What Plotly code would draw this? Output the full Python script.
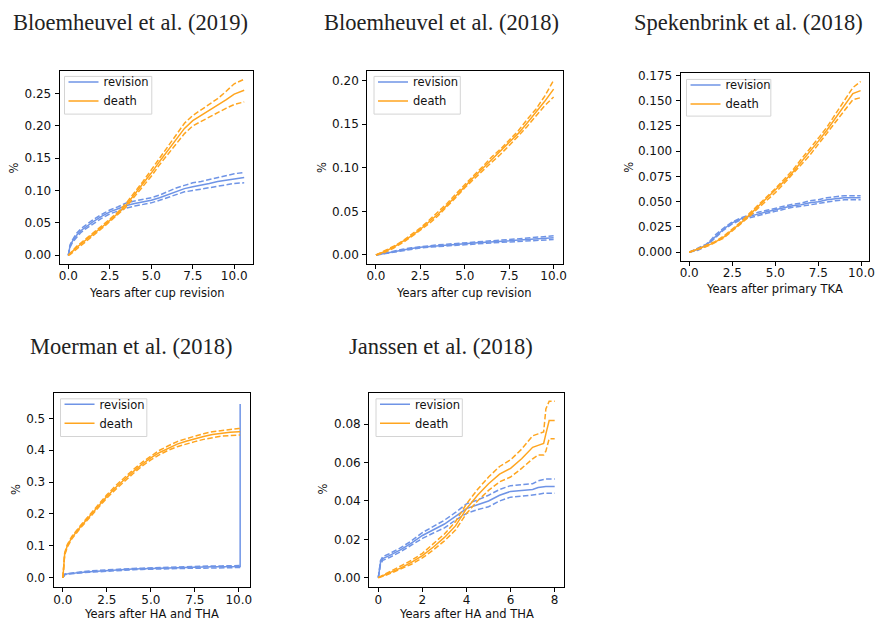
import plotly.graph_objects as go

W, H = 882, 620

# ---------------- data ----------------
titles = ["Bloemheuvel et al. (2019)", "Bloemheuvel et al. (2018)", "Spekenbrink et al. (2018)",
          "Moerman et al. (2018)", "Janssen et al. (2018)"]
xlabels = ["Years after cup revision", "Years after cup revision", "Years after primary TKA",
           "Years after HA and THA", "Years after HA and THA"]
series_names = ["revision", "death"]

# Panel 1 - Bloemheuvel 2019
p1_x = [0, 0.1, 0.25, 0.5, 0.75, 1, 1.5, 2, 2.5, 3, 3.5, 4, 4.5, 5, 5.5, 6, 6.5, 7, 7.5, 8, 8.5, 9, 9.5, 10, 10.6]
p1_rev = [0, 0.014, 0.022, 0.031, 0.038, 0.043, 0.052, 0.060, 0.067, 0.072, 0.077, 0.080, 0.082, 0.085, 0.089, 0.094, 0.099, 0.103, 0.106, 0.108, 0.111, 0.114, 0.116, 0.118, 0.120]
p1_rev_lo = [0, 0.012, 0.020, 0.028, 0.035, 0.040, 0.049, 0.057, 0.064, 0.069, 0.073, 0.076, 0.078, 0.081, 0.085, 0.089, 0.094, 0.098, 0.100, 0.102, 0.105, 0.107, 0.109, 0.111, 0.112]
p1_rev_hi = [0, 0.016, 0.024, 0.034, 0.041, 0.046, 0.055, 0.063, 0.070, 0.075, 0.081, 0.084, 0.086, 0.089, 0.093, 0.099, 0.104, 0.108, 0.112, 0.114, 0.117, 0.121, 0.124, 0.126, 0.128]
p1_death = [0, 0.002, 0.006, 0.012, 0.017, 0.022, 0.032, 0.043, 0.054, 0.065, 0.078, 0.094, 0.110, 0.127, 0.145, 0.162, 0.179, 0.196, 0.208, 0.216, 0.223, 0.231, 0.240, 0.249, 0.255]
p1_death_lo = [0, 0.001, 0.004, 0.010, 0.015, 0.020, 0.030, 0.041, 0.052, 0.063, 0.075, 0.091, 0.106, 0.122, 0.140, 0.156, 0.172, 0.188, 0.200, 0.207, 0.213, 0.220, 0.227, 0.233, 0.237]
p1_death_hi = [0, 0.003, 0.008, 0.014, 0.019, 0.024, 0.034, 0.045, 0.056, 0.067, 0.081, 0.097, 0.114, 0.132, 0.150, 0.168, 0.186, 0.204, 0.216, 0.225, 0.233, 0.242, 0.253, 0.265, 0.272]

# Panel 2 - Bloemheuvel 2018
p2_x = [0, 0.5, 1, 1.5, 2, 2.5, 3, 3.5, 4, 4.5, 5, 5.5, 6, 6.5, 7, 7.5, 8, 8.5, 9, 9.5, 10]
p2_rev = [0, 0.002, 0.004, 0.006, 0.0075, 0.0088, 0.0098, 0.0107, 0.0115, 0.0123, 0.0130, 0.0137, 0.0144, 0.0150, 0.0157, 0.0163, 0.0169, 0.0175, 0.0181, 0.0189, 0.0197]
p2_rev_lo = [0, 0.0016, 0.0035, 0.0054, 0.0068, 0.0080, 0.0090, 0.0098, 0.0106, 0.0113, 0.0120, 0.0126, 0.0132, 0.0138, 0.0144, 0.0149, 0.0154, 0.0159, 0.0164, 0.0170, 0.0177]
p2_rev_hi = [0, 0.0024, 0.0045, 0.0066, 0.0082, 0.0096, 0.0106, 0.0116, 0.0124, 0.0133, 0.0140, 0.0148, 0.0156, 0.0162, 0.0170, 0.0177, 0.0184, 0.0191, 0.0198, 0.0207, 0.0220]
p2_death = [0, 0.004, 0.009, 0.015, 0.022, 0.0295, 0.038, 0.047, 0.057, 0.068, 0.079, 0.089, 0.099, 0.109, 0.118, 0.128, 0.139, 0.151, 0.163, 0.176, 0.190]
p2_death_lo = [0, 0.003, 0.008, 0.014, 0.021, 0.028, 0.036, 0.045, 0.055, 0.066, 0.077, 0.087, 0.097, 0.106, 0.115, 0.125, 0.136, 0.147, 0.159, 0.171, 0.181]
p2_death_hi = [0, 0.005, 0.010, 0.016, 0.023, 0.031, 0.040, 0.049, 0.059, 0.070, 0.081, 0.091, 0.101, 0.112, 0.121, 0.131, 0.142, 0.155, 0.167, 0.182, 0.200]

# Panel 3 - Spekenbrink 2018
p3_x = [0, 0.5, 1, 1.25, 1.5, 2, 2.5, 3, 3.5, 4, 4.5, 5, 5.5, 6, 6.5, 7, 7.5, 8, 8.5, 9, 9.5, 9.95]
p3_rev = [0, 0.003, 0.007, 0.011, 0.016, 0.023, 0.029, 0.033, 0.0355, 0.038, 0.040, 0.042, 0.044, 0.046, 0.047, 0.049, 0.050, 0.052, 0.053, 0.054, 0.054, 0.054]
p3_rev_lo = [0, 0.002, 0.006, 0.010, 0.015, 0.022, 0.028, 0.032, 0.034, 0.0365, 0.0385, 0.0405, 0.0425, 0.0445, 0.0455, 0.047, 0.048, 0.050, 0.051, 0.052, 0.052, 0.052]
p3_rev_hi = [0, 0.004, 0.008, 0.012, 0.017, 0.024, 0.030, 0.034, 0.037, 0.0395, 0.0415, 0.0435, 0.0455, 0.0475, 0.0485, 0.051, 0.052, 0.054, 0.055, 0.056, 0.056, 0.056]
p3_death = [0, 0.003, 0.006, 0.008, 0.010, 0.015, 0.022, 0.029, 0.037, 0.045, 0.053, 0.061, 0.070, 0.079, 0.089, 0.099, 0.110, 0.121, 0.133, 0.145, 0.157, 0.160]
p3_death_lo = [0, 0.0025, 0.0055, 0.0075, 0.0095, 0.014, 0.021, 0.028, 0.0355, 0.0435, 0.051, 0.059, 0.068, 0.077, 0.086, 0.096, 0.107, 0.118, 0.129, 0.140, 0.151, 0.153]
p3_death_hi = [0, 0.0035, 0.0065, 0.0085, 0.0105, 0.016, 0.023, 0.030, 0.0385, 0.0465, 0.055, 0.063, 0.072, 0.081, 0.092, 0.102, 0.113, 0.124, 0.137, 0.150, 0.163, 0.169]

# Panel 4 - Moerman 2018
p4_x = [0, 0.05, 0.1, 0.25, 0.5, 1, 1.5, 2, 2.5, 3, 3.5, 4, 4.5, 5, 5.5, 6, 6.5, 7, 7.5, 8, 8.5, 9, 9.5, 10, 10.08]
p4_death = [0, 0.050, 0.074, 0.100, 0.125, 0.160, 0.192, 0.224, 0.255, 0.283, 0.309, 0.333, 0.356, 0.376, 0.393, 0.407, 0.419, 0.428, 0.436, 0.443, 0.449, 0.453, 0.456, 0.458, 0.458]
p4_death_lo = [0, 0.046, 0.070, 0.096, 0.121, 0.156, 0.187, 0.219, 0.250, 0.277, 0.303, 0.327, 0.350, 0.370, 0.386, 0.400, 0.411, 0.420, 0.427, 0.434, 0.440, 0.444, 0.446, 0.448, 0.448]
p4_death_hi = [0, 0.054, 0.078, 0.104, 0.129, 0.164, 0.197, 0.229, 0.260, 0.289, 0.315, 0.339, 0.362, 0.382, 0.400, 0.414, 0.427, 0.436, 0.445, 0.452, 0.458, 0.462, 0.466, 0.468, 0.468]
p4_x_rev = [0, 0.05, 0.1, 0.25, 0.5, 1, 1.5, 2, 2.5, 3, 3.5, 4, 4.5, 5, 5.5, 6, 6.5, 7, 7.5, 8, 8.5, 9, 9.5, 10, 10.08, 10.08]
p4_rev = [0, 0.007, 0.010, 0.012, 0.014, 0.016, 0.019, 0.021, 0.023, 0.025, 0.026, 0.027, 0.028, 0.029, 0.030, 0.031, 0.031, 0.032, 0.033, 0.033, 0.034, 0.034, 0.035, 0.035, 0.035, 0.545]
p4_rev_lo = [0, 0.006, 0.009, 0.011, 0.013, 0.015, 0.017, 0.019, 0.021, 0.023, 0.024, 0.025, 0.026, 0.027, 0.028, 0.028, 0.028, 0.029, 0.030, 0.030, 0.031, 0.031, 0.032, 0.032, 0.032]
p4_rev_hi = [0, 0.008, 0.011, 0.013, 0.015, 0.017, 0.021, 0.023, 0.025, 0.027, 0.028, 0.029, 0.030, 0.031, 0.032, 0.034, 0.034, 0.035, 0.036, 0.036, 0.037, 0.037, 0.038, 0.038, 0.038]

# Panel 5 - Janssen 2018
p5_x = [0, 0.05, 0.1, 0.2, 0.5, 1, 1.5, 2, 2.5, 3, 3.5, 4, 4.5, 5, 5.5, 6, 6.5, 7, 7.25, 7.5, 7.6, 7.75, 8]
p5_rev = [0, 0.005, 0.008, 0.010, 0.0115, 0.0145, 0.018, 0.022, 0.025, 0.028, 0.032, 0.036, 0.038, 0.040, 0.043, 0.045, 0.0455, 0.046, 0.047, 0.0475, 0.0475, 0.0475, 0.0475]
p5_rev_lo = [0, 0.004, 0.007, 0.009, 0.0105, 0.0135, 0.0168, 0.0205, 0.0233, 0.026, 0.030, 0.0335, 0.0355, 0.037, 0.040, 0.042, 0.0425, 0.043, 0.0435, 0.044, 0.044, 0.044, 0.044]
p5_rev_hi = [0, 0.006, 0.009, 0.011, 0.0125, 0.0155, 0.0192, 0.0235, 0.0267, 0.030, 0.034, 0.0385, 0.0405, 0.043, 0.046, 0.048, 0.0485, 0.049, 0.0505, 0.0515, 0.0515, 0.0515, 0.0515]
p5_death = [0, 0.0002, 0.0005, 0.001, 0.0025, 0.005, 0.008, 0.0115, 0.016, 0.021, 0.027, 0.036, 0.043, 0.049, 0.054, 0.057, 0.062, 0.068, 0.069, 0.070, 0.075, 0.082, 0.082]
p5_death_lo = [0, 0.0001, 0.0003, 0.0007, 0.002, 0.0043, 0.007, 0.0103, 0.0145, 0.0192, 0.0248, 0.0335, 0.040, 0.0455, 0.050, 0.0525, 0.057, 0.062, 0.064, 0.064, 0.066, 0.0725, 0.0725]
p5_death_hi = [0, 0.0003, 0.0007, 0.0013, 0.003, 0.0057, 0.009, 0.0127, 0.0175, 0.0228, 0.0292, 0.0385, 0.046, 0.0525, 0.058, 0.0615, 0.067, 0.074, 0.075, 0.076, 0.088, 0.092, 0.092]

# tick definitions
p1_xticks = [0, 2.5, 5, 7.5, 10]
p1_yticks = [0, 0.05, 0.10, 0.15, 0.20, 0.25]
p2_yticks = [0, 0.05, 0.10, 0.15, 0.20]
p3_yticks = [0, 0.025, 0.05, 0.075, 0.1, 0.125, 0.15, 0.175]
p4_yticks = [0, 0.1, 0.2, 0.3, 0.4, 0.5]
p5_xticks = [0, 2, 4, 6, 8]
p5_yticks = [0, 0.02, 0.04, 0.06, 0.08]

# ---------------- style / layout ----------------
BLUE = "#6f94e6"
ORANGE = "#ffa51f"
TICKFONT = dict(family="DejaVu Sans", size=12, color="#111")
LABELFONT = dict(family="DejaVu Sans", size=11.5, color="#111")
DASH = "5.5px,2.4px"

# px = plot box (left, right, top, bottom) in pixels; lgbox = legend frame (l, r, t, b)
panels = [
    dict(px=(59, 254, 67, 261), xr=[-0.53, 11.13], yr=[-0.0133, 0.284], xt=p1_xticks, xf=".1f", yt=p1_yticks, yf=".2f",
         tc=(131, 18), pct=(13, 164), xl=(157, 290), lgbox=(64, 152, 72, 110),
         rev=(p1_x, p1_rev, p1_rev_lo, p1_rev_hi, p1_x), death=(p1_x, p1_death, p1_death_lo, p1_death_hi)),
    dict(px=(369, 566, 67, 261), xr=[-0.5, 10.5], yr=[-0.0102, 0.2102], xt=p1_xticks, xf=".1f", yt=p2_yticks, yf=".2f",
         tc=(444, 18), pct=(323, 164), xl=(467, 290), lgbox=(376, 463, 72, 110),
         rev=(p2_x, p2_rev, p2_rev_lo, p2_rev_hi, p2_x), death=(p2_x, p2_death, p2_death_lo, p2_death_hi)),
    dict(px=(685, 875, 69, 258), xr=[-0.5, 10.44], yr=[-0.0086, 0.177], xt=p1_xticks, xf=".1f", yt=p3_yticks, yf=".3f",
         tc=(753, 18), pct=(633, 163), xl=(780, 286), lgbox=(691, 776, 75, 112),
         rev=(p3_x, p3_rev, p3_rev_lo, p3_rev_hi, p3_x), death=(p3_x, p3_death, p3_death_lo, p3_death_hi)),
    dict(px=(53, 251, 391, 587), xr=[-0.53, 10.64], yr=[-0.03, 0.58], xt=p1_xticks, xf=".1f", yt=p4_yticks, yf=".1f",
         tc=(131, 344), pct=(15, 488), xl=(152, 614), lgbox=(60, 147, 397, 435),
         rev=(p4_x_rev, p4_rev, p4_rev_lo, p4_rev_hi, p4_x), death=(p4_x, p4_death, p4_death_lo, p4_death_hi)),
    dict(px=(371, 567, 391, 587), xr=[-0.42, 8.4], yr=[-0.005, 0.0964], xt=p5_xticks, xf="d", yt=p5_yticks, yf=".2f",
         tc=(444, 344), pct=(325, 488), xl=(469, 614), lgbox=(378, 465, 397, 435),
         rev=(p5_x, p5_rev, p5_rev_lo, p5_rev_hi, p5_x), death=(p5_x, p5_death, p5_death_lo, p5_death_hi)),
]

fig = go.Figure()
annotations = []
shapes = []
layout = dict(width=W, height=H, margin=dict(l=0, r=0, t=0, b=0),
              paper_bgcolor="white", plot_bgcolor="white", showlegend=True)

for i, p in enumerate(panels):
    n = i + 1
    xa = "x" if n == 1 else f"x{n}"
    ya = "y" if n == 1 else f"y{n}"
    lg = "legend" if n == 1 else f"legend{n}"
    x0, x1, y0, y1 = p["px"]
    axis_common = dict(showline=True, mirror=True, linecolor="black", linewidth=0.8,
                       ticks="outside", ticklen=4, tickwidth=0.8, tickcolor="black",
                       showgrid=False, zeroline=False, tickfont=TICKFONT, fixedrange=True)
    layout["xaxis" if n == 1 else f"xaxis{n}"] = dict(
        domain=[x0 / W, x1 / W], range=p["xr"], tickvals=p["xt"], tickformat=p["xf"],
        anchor=ya, ticklabelstandoff=-3, **axis_common)
    layout["yaxis" if n == 1 else f"yaxis{n}"] = dict(
        domain=[1 - y1 / H, 1 - y0 / H], range=p["yr"], tickvals=p["yt"], tickformat=p["yf"],
        anchor=xa, ticklabelstandoff=1, **axis_common)

    rx, rv, rlo, rhi, rx_ci = p["rev"]
    dx, dv, dlo, dhi = p["death"]
    fig.add_trace(go.Scatter(x=rx, y=rv, mode="lines", name=series_names[0], line=dict(color=BLUE, width=1.5),
                             xaxis=xa, yaxis=ya, legend=lg, showlegend=True))
    fig.add_trace(go.Scatter(x=rx_ci, y=rlo, mode="lines", line=dict(color=BLUE, width=1.5, dash=DASH),
                             xaxis=xa, yaxis=ya, legend=lg, showlegend=False))
    fig.add_trace(go.Scatter(x=rx_ci, y=rhi, mode="lines", line=dict(color=BLUE, width=1.5, dash=DASH),
                             xaxis=xa, yaxis=ya, legend=lg, showlegend=False))
    fig.add_trace(go.Scatter(x=dx, y=dv, mode="lines", name=series_names[1], line=dict(color=ORANGE, width=1.5),
                             xaxis=xa, yaxis=ya, legend=lg, showlegend=True))
    fig.add_trace(go.Scatter(x=dx, y=dlo, mode="lines", line=dict(color=ORANGE, width=1.5, dash=DASH),
                             xaxis=xa, yaxis=ya, legend=lg, showlegend=False))
    fig.add_trace(go.Scatter(x=dx, y=dhi, mode="lines", line=dict(color=ORANGE, width=1.5, dash=DASH),
                             xaxis=xa, yaxis=ya, legend=lg, showlegend=False))

    # legend frame (matplotlib style) + native legend entries inside it
    bl, br, bt, bb = p["lgbox"]
    shapes.append(dict(type="rect", xref="paper", yref="paper", x0=bl / W, x1=br / W,
                       y0=1 - bb / H, y1=1 - bt / H, line=dict(color="#d4d4d4", width=1),
                       fillcolor="rgba(255,255,255,0.8)", layer="above"))
    layout[lg] = dict(x=(bl - 1) / W, y=1 - (bt - 9) / H, xanchor="left", yanchor="top", xref="paper", yref="paper",
                      bgcolor="rgba(0,0,0,0)", borderwidth=0,
                      font=LABELFONT, itemwidth=30, tracegroupgap=0)

    tx, ty = p["tc"]
    annotations.append(dict(text=titles[i], x=tx / W, y=1 - ty / H, xref="paper", yref="paper",
                            xanchor="center", yanchor="middle", showarrow=False,
                            font=dict(family="Liberation Serif", size=22.5, color="#222")))
    cx, cy = p["pct"]
    annotations.append(dict(text="%", x=cx / W, y=1 - cy / H, xref="paper", yref="paper",
                            xanchor="center", yanchor="middle", showarrow=False, textangle=-90,
                            font=LABELFONT))
    xlx, xly = p["xl"]
    annotations.append(dict(text=xlabels[i], x=xlx / W, y=1 - xly / H, xref="paper", yref="paper",
                            xanchor="center", yanchor="middle", showarrow=False, font=LABELFONT))

layout["annotations"] = annotations
layout["shapes"] = shapes
fig.update_layout(**layout)
fig.write_html("out.html")
